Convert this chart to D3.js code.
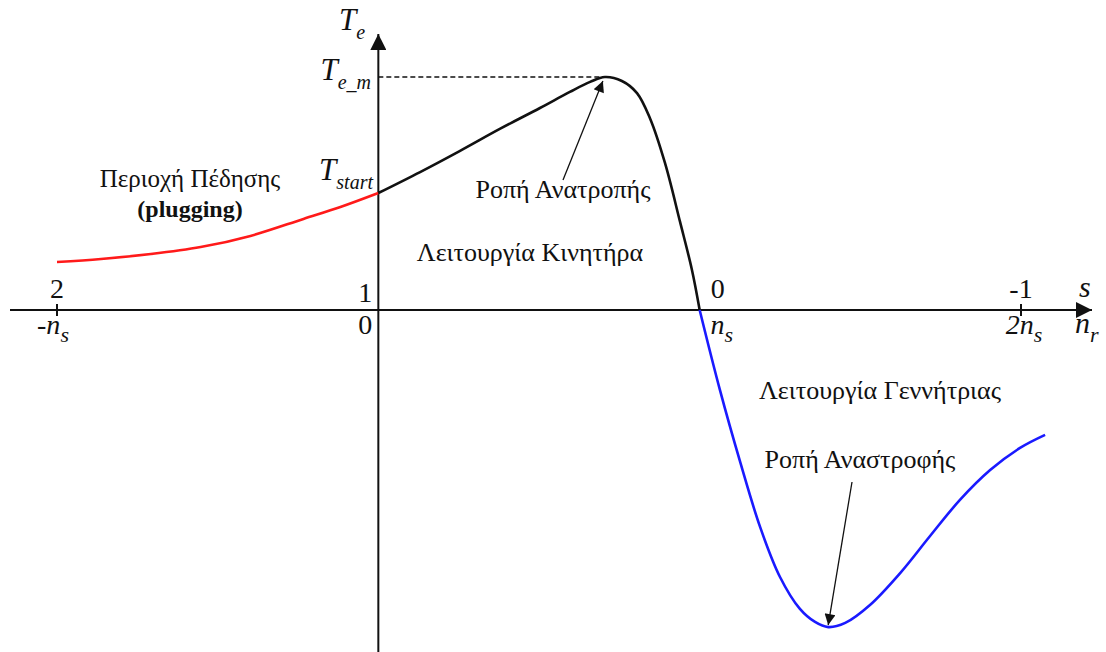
<!DOCTYPE html>
<html>
<head>
<meta charset="utf-8">
<script src="https://cdn.jsdelivr.net/npm/d3@7"></script>
<style>
  html, body { margin: 0; padding: 0; background: #fff; }
  svg { display: block; }
</style>
</head>
<body>
<svg id="chart" width="1106" height="652"></svg>
<script>
// Rotor speed n_r (in units of n_s) and electromagnetic torque T_e (in units of T_e_m)
const brakingSpeed  = [-1.0, -0.863, -0.708, -0.553, -0.398, -0.233, -0.118, 0];
const brakingTorque = [0.206, 0.219, 0.240, 0.270, 0.318, 0.391, 0.442, 0.502];

const motorSpeed  = [0, 0.130, 0.253, 0.378, 0.503, 0.596, 0.659, 0.705, 0.758, 0.805, 0.845, 0.892, 0.939, 0.976, 1.0];
const motorTorque = [0.502, 0.592, 0.682, 0.777, 0.867, 0.936, 0.979, 1.000, 0.983, 0.931, 0.824, 0.631, 0.378, 0.172, 0];

const generatorSpeed  = [1.0, 1.063, 1.126, 1.188, 1.250, 1.312, 1.359, 1.400, 1.453, 1.530, 1.624, 1.717, 1.810, 1.904, 1.997, 2.075];
const generatorTorque = [0, -0.343, -0.652, -0.931, -1.146, -1.283, -1.339, -1.361, -1.343, -1.266, -1.129, -0.970, -0.815, -0.687, -0.592, -0.536];

// Axis ticks: speed position, slip label above, speed label below (base + subscript)
const tickSpeed = [-1, 0, 1, 2];
const slipLabels = ["2", "1", "0", "-1"];
const speedLabels = [["-n", "s"], ["0", ""], ["n", "s"], ["2n", "s"]];

const SERIF = "'Liberation Serif'";
const INK = "#111";

const svg = d3.select("#chart");

// every label goes through this helper so the serif face is set on the element itself
function label(sel, size) {
  return sel.append("text")
    .style("font-family", SERIF)
    .style("font-size", size + "px")
    .attr("fill", INK);
}

const x = d3.scaleLinear().domain([-1, 2]).range([57, 1021]);
const y = d3.scaleLinear().domain([0, 1]).range([310, 77]);

// arrow heads
const defs = svg.append("defs");
defs.append("marker").attr("id", "axisArrow")
  .attr("viewBox", "0 0 10 10").attr("refX", 10).attr("refY", 5)
  .attr("markerWidth", 16).attr("markerHeight", 16).attr("markerUnits", "userSpaceOnUse")
  .attr("orient", "auto")
  .append("path").attr("d", "M0,0 L10,5 L0,10 Z").attr("fill", INK);
defs.append("marker").attr("id", "noteArrow")
  .attr("viewBox", "0 0 10 10").attr("refX", 10).attr("refY", 5)
  .attr("markerWidth", 15).attr("markerHeight", 11).attr("markerUnits", "userSpaceOnUse")
  .attr("orient", "auto")
  .append("path").attr("d", "M0,0 L10,5 L0,10 Z").attr("fill", INK);

// axes
svg.append("line")
  .attr("x1", 10).attr("y1", y(0)).attr("x2", 1092).attr("y2", y(0))
  .attr("stroke", INK).attr("stroke-width", 2).attr("marker-end", "url(#axisArrow)");
svg.append("line")
  .attr("x1", x(0)).attr("y1", 652).attr("x2", x(0)).attr("y2", 34)
  .attr("stroke", INK).attr("stroke-width", 2).attr("marker-end", "url(#axisArrow)");

// small tick marks at the outer speed positions
svg.selectAll("line.tick").data([-1, 2]).enter().append("line")
  .attr("class", "tick")
  .attr("x1", d => x(d)).attr("x2", d => x(d))
  .attr("y1", y(0) - 6).attr("y2", y(0) + 6)
  .attr("stroke", INK).attr("stroke-width", 2);

// slip labels above the axis
const slipPos = [
  { dx: 0, anchor: "middle", dy: -12 },
  { dx: -6, anchor: "end", dy: -8 },
  { dx: 18, anchor: "middle", dy: -12 },
  { dx: 0, anchor: "middle", dy: -12 }
];
tickSpeed.forEach((d, i) => {
  label(svg, 28)
    .attr("x", x(d) + slipPos[i].dx)
    .attr("y", y(0) + slipPos[i].dy)
    .attr("text-anchor", slipPos[i].anchor)
    .text(slipLabels[i]);
});

// speed labels below the axis
const speedPos = [
  { dx: -4, anchor: "middle" },
  { dx: -6, anchor: "end" },
  { dx: 22, anchor: "middle" },
  { dx: 3, anchor: "middle" }
];
speedLabels.forEach((lab, i) => {
  const t = label(svg, 28)
    .attr("x", x(tickSpeed[i]) + speedPos[i].dx)
    .attr("y", y(0) + 24)
    .attr("text-anchor", speedPos[i].anchor);
  if (lab[1]) {
    t.append("tspan").style("font-style", "italic").text(lab[0]);
    t.append("tspan").style("font-style", "italic").style("font-size", "22px").attr("dy", 8).text(lab[1]);
  } else {
    t.text(lab[0]);
  }
});

// axis names
label(svg, 30).style("font-style", "italic").attr("x", 1079).attr("y", 297).text("s");
const nr = label(svg, 30).style("font-style", "italic").attr("x", 1075).attr("y", 333);
nr.append("tspan").text("n");
nr.append("tspan").style("font-size", "22px").attr("dy", 9).text("r");

function sub(xp, yp, base, subText, anchorEnd) {
  const t = label(svg, 31).style("font-style", "italic")
    .attr("x", xp).attr("y", yp)
    .attr("text-anchor", anchorEnd ? "end" : "start");
  t.append("tspan").text(base);
  t.append("tspan").style("font-size", "20px").attr("dy", 9).text(subText);
  return t;
}
sub(339, 30, "T", "e");
sub(371, 80, "T", "e_m", true);
sub(373, 180, "T", "start", true);

// dashed line from the torque axis to the breakdown torque
const peakIdx = motorTorque.indexOf(d3.max(motorTorque));
svg.append("line")
  .attr("x1", x(0)).attr("x2", x(motorSpeed[peakIdx]))
  .attr("y1", y(1)).attr("y2", y(1))
  .attr("stroke", INK).attr("stroke-width", 1.3).attr("stroke-dasharray", "5,3");

// torque-speed curve segments
const line = d3.line().x(d => x(d[0])).y(d => y(d[1])).curve(d3.curveCatmullRom.alpha(0.5));
const segments = [
  { sp: brakingSpeed, tq: brakingTorque, color: "#ff1a1a" },
  { sp: motorSpeed, tq: motorTorque, color: INK },
  { sp: generatorSpeed, tq: generatorTorque, color: "#1a1aff" }
];
svg.selectAll("path.curve").data(segments).enter().append("path")
  .attr("class", "curve")
  .attr("d", s => line(s.sp.map((v, i) => [v, s.tq[i]])))
  .attr("fill", "none")
  .attr("stroke", s => s.color)
  .attr("stroke-width", 2.6);

// annotation arrows
const minIdx = generatorTorque.indexOf(d3.min(generatorTorque));
svg.append("line")
  .attr("x1", 563).attr("y1", 180)
  .attr("x2", x(motorSpeed[peakIdx]) - 2).attr("y2", y(motorTorque[peakIdx]) + 4)
  .attr("stroke", INK).attr("stroke-width", 1.3).attr("marker-end", "url(#noteArrow)");
svg.append("line")
  .attr("x1", 852).attr("y1", 482)
  .attr("x2", x(generatorSpeed[minIdx])).attr("y2", y(generatorTorque[minIdx]) - 2)
  .attr("stroke", INK).attr("stroke-width", 1.3).attr("marker-end", "url(#noteArrow)");

// region labels
const notes = [
  { t: "Περιοχή Πέδησης", x: 190, y: 187, bold: false, size: 25 },
  { t: "(plugging)", x: 190, y: 217, bold: true, size: 24 },
  { t: "Ροπή Ανατροπής", x: 563, y: 198, bold: false, size: 26 },
  { t: "Λειτουργία Κινητήρα", x: 530, y: 261, bold: false, size: 26 },
  { t: "Λειτουργία Γεννήτριας", x: 880, y: 399, bold: false, size: 26 },
  { t: "Ροπή Αναστροφής", x: 860, y: 468, bold: false, size: 26 }
];
notes.forEach(d => {
  label(svg, d.size)
    .attr("x", d.x).attr("y", d.y)
    .attr("text-anchor", "middle")
    .style("font-weight", d.bold ? "bold" : "normal")
    .text(d.t);
});
</script>
</body>
</html>
